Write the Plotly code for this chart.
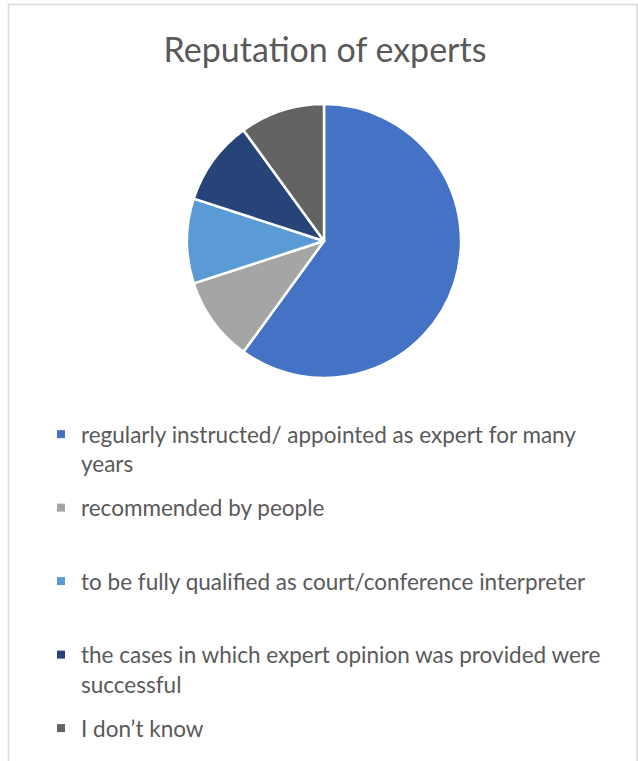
import plotly.graph_objects as go

title = "Reputation of experts"
labels = [
    "regularly instructed/ appointed as expert for many",
    "recommended by people",
    "to be fully qualified as court/conference interpreter",
    "the cases in which expert opinion was provided were",
    "I don\u2019t know",
]
label_second_lines = ["years", "&nbsp;", "&nbsp;", "successful", ""]
values = [6, 1, 1, 1, 1]
colors = ["#4472C4", "#A5A5A5", "#5B9BD5", "#264478", "#636363"]

W, H = 638, 761
FONT = "Lato, 'Open Sans', sans-serif"
TEXT = "#595959"

fig = go.Figure()
fig.add_trace(go.Pie(
    labels=labels, values=values, sort=False, direction="clockwise", rotation=0,
    marker=dict(colors=colors, line=dict(color="white", width=2.5)),
    textinfo="none", hoverinfo="label+percent", showlegend=False,
    domain=dict(x=[187 / W, 461 / W], y=[1 - 378 / H, 1 - 104 / H]),
))

# legend entries (one per slice, same colours)
for i, (lab, l2, col) in enumerate(zip(labels, label_second_lines, colors)):
    name = f"{lab}<br>{l2}" if l2 else lab
    fig.add_trace(go.Scatter(
        x=[None], y=[None], mode="markers", name=name,
        marker=dict(symbol="square", size=8, color=col),
        legendgroup=f"g{i}", showlegend=True, hoverinfo="skip",
    ))

fig.update_layout(
    width=W, height=H,
    margin=dict(l=0, r=0, t=0, b=0, autoexpand=False),
    paper_bgcolor="white", plot_bgcolor="white",
    font=dict(family=FONT, color=TEXT),
    title=dict(text=title, x=325 / W, xanchor="center", y=1 - 50 / H, yanchor="middle",
               font=dict(family=FONT, size=34, color=TEXT)),
    xaxis=dict(visible=False), yaxis=dict(visible=False),
    showlegend=True,
    legend=dict(
        x=41 / W, xanchor="left", y=1 - 413 / H, yanchor="top",
        font=dict(family=FONT, size=22.5, color=TEXT),
        valign="top", traceorder="grouped", tracegroupgap=12,
        itemclick=False, itemdoubleclick=False,
        bgcolor="rgba(0,0,0,0)",
    ),
    shapes=[dict(type="rect", xref="paper", yref="paper",
                 x0=8.5 / W, x1=637 / W, y0=-0.05, y1=1 - 4.5 / H,
                 line=dict(color="#D9D9D9", width=1.5), fillcolor="rgba(0,0,0,0)", layer="below")],
)

fig.write_html("out.html", config={"displayModeBar": False},
               post_script="document.body.style.margin='0px';")
